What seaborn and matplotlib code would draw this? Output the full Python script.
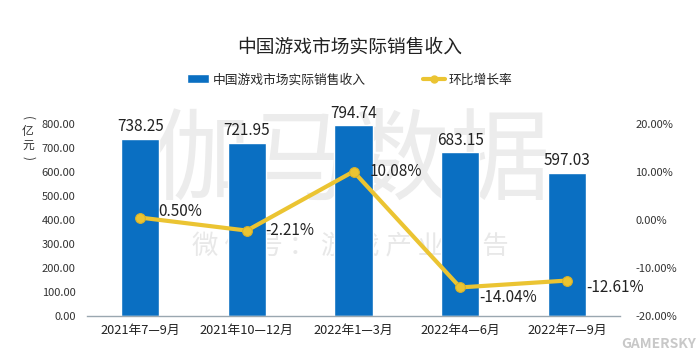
import matplotlib
matplotlib.use("Agg")
import matplotlib.pyplot as plt
import seaborn as sns
import pandas as pd
from matplotlib.lines import Line2D
from matplotlib.patches import Patch

periods = ["2021年7—9月", "2021年10—12月", "2022年1—3月", "2022年4—6月", "2022年7—9月"]
revenue = [738.25, 721.95, 794.74, 683.15, 597.03]
growth = [0.50, -2.21, 10.08, -14.04, -12.61]
left_ticks = [0, 100, 200, 300, 400, 500, 600, 700, 800]
right_ticks = [-20, -10, 0, 10, 20]

sns.set_theme(style="white")
plt.rcParams['font.family'] = ['Noto Sans CJK SC', 'DejaVu Sans']

df = pd.DataFrame({"period": periods, "revenue": revenue, "growth": growth})

fig = plt.figure(figsize=(7, 3.6), dpi=100)
ax = fig.add_axes([0.124, 0.122, 0.762, 0.534])

bar_c = "#0A6FC2"
line_c = "#EBC432"

# watermark (behind everything)
fig.text(0.50, 0.547, "伽马数据", fontsize=72, color="#ececec", ha="center", va="center", zorder=-5)
fig.text(0.50, 0.315, "微 信 号 ： 游 戏 产 业 报 告", fontsize=19, color="#e8e8e8",
         ha="center", va="center", zorder=-5)

sns.barplot(data=df, x="period", y="revenue", color=bar_c, width=0.36, ax=ax, saturation=1)
ax.set_ylim(0, 800)
ax.set_xlim(-0.5, 4.5)
ax.set_yticks(left_ticks)
ax.set_yticklabels([f"{v:.2f}" for v in left_ticks], fontsize=8, color="#333333")
ax.set_xlabel("")
ax.set_ylabel("")
ax.tick_params(axis="x", labelsize=9.2, colors="#222222", length=0, pad=6)
ax.tick_params(axis="y", length=0, pad=8)
for s in ["top", "right", "left"]:
    ax.spines[s].set_visible(False)
ax.spines["bottom"].set_color("#9aa7b0")
ax.spines["bottom"].set_linewidth(1.0)
ax.patch.set_alpha(0)

for i, v in enumerate(revenue):
    ax.text(i, v + 14, f"{v:.2f}", ha="center", va="bottom", fontsize=11, color="#222222")

ax2 = ax.twinx()
sns.lineplot(x=list(range(len(periods))), y=growth, ax=ax2, color=line_c, linewidth=3,
             marker="o", markersize=7, markeredgecolor="#d9b22a", markeredgewidth=0.8)
ax2.set_ylim(-20, 20)
ax2.set_yticks(right_ticks)
ax2.set_yticklabels([f"{v:.2f}%" for v in right_ticks], fontsize=8, color="#333333")
ax2.tick_params(axis="y", length=0, pad=11)
for s in ["top", "right", "left", "bottom"]:
    ax2.spines[s].set_visible(False)
ax.set_zorder(1)
ax2.set_zorder(2)
ax2.patch.set_alpha(0)

offsets = [(0.17, 1.25), (0.17, 0.0), (0.15, 0.1), (0.18, -2.1), (0.18, -1.4)]
for i, g in enumerate(growth):
    dx, dy = offsets[i]
    ax2.text(i + dx, g + dy, f"{g:.2f}%", ha="left", va="center", fontsize=11, color="#222222")

fig.text(0.5, 0.868, "中国游戏市场实际销售收入", fontsize=13.5, ha="center", va="center", color="#222222")
handles = [Patch(facecolor=bar_c, label="中国游戏市场实际销售收入"),
           Line2D([0], [0], color=line_c, lw=3, marker="o", markersize=5, label="环比增长率")]
fig.legend(handles=handles, loc="center", bbox_to_anchor=(0.5, 0.778), ncol=2, frameon=False,
           fontsize=9.2, columnspacing=4.5, handlelength=1.7, handletextpad=0.3)

# vertical unit label （亿元）
fig.text(0.040, 0.672, "(", fontsize=8.5, rotation=-90, ha="center", va="center", color="#333333")
fig.text(0.040, 0.635, "亿", fontsize=8.5, ha="center", va="center", color="#333333")
fig.text(0.040, 0.597, "元", fontsize=8.5, ha="center", va="center", color="#333333")
fig.text(0.040, 0.562, ")", fontsize=8.5, rotation=-90, ha="center", va="center", color="#333333")

fig.text(0.995, 0.025, "GAMERSKY", fontsize=10, ha="right", va="bottom", color="#c8c8c8", style="italic", weight="bold")

fig.savefig("out.png", dpi=100)
